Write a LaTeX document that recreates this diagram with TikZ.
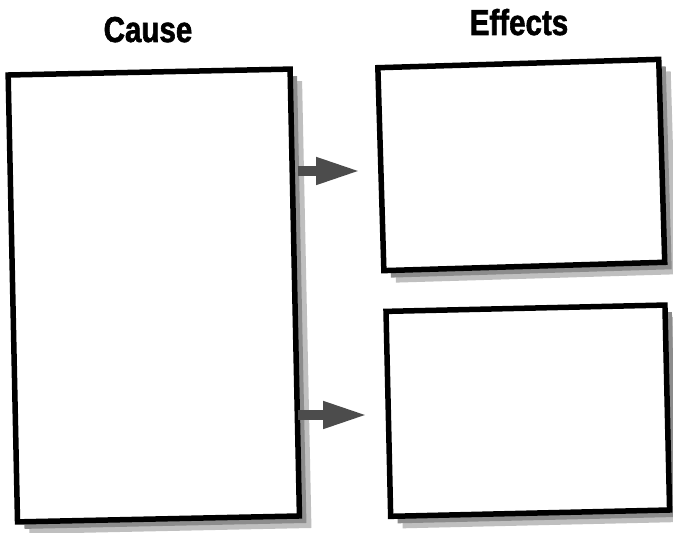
\documentclass[tikz,border=0pt]{standalone}
\usepackage{fontspec}
\newfontfamily\headfont{Liberation Sans}[FakeStretch=0.82, BoldFeatures={FakeBold=1.6}]
\usetikzlibrary{shadows,arrows.meta}
\tikzset{
  panel/.style={draw=black, line width=5.5pt, fill=white, inner sep=0pt,
    drop shadow={shadow xshift=12pt, shadow yshift=-12pt, fill=black!25, opacity=1},
    drop shadow={shadow xshift=7pt, shadow yshift=-7pt, fill=black!45, opacity=1}},
  heading/.style={font=\headfont\bfseries\fontsize{36}{40}\selectfont, anchor=base, inner sep=0pt},
  flow/.style={line width=10pt, draw=black!70, -{Triangle[width=25pt,length=45pt]}}
}
\begin{document}
\begin{tikzpicture}[x=1pt,y=1pt]
\useasboundingbox (0,0) rectangle (673,533);
\clip (0,0) rectangle (673,533);
\node[heading] (causelabel) at (148,491) {Cause};
\node[heading] (effectslabel) at (519,498) {Effects};
\node[panel, minimum width=282pt, minimum height=447pt, rotate=1.2] (cause) at (153.8,237.5) {};
\node[panel, minimum width=281pt, minimum height=203pt, rotate=1.7] (eff1) at (521.3,368) {};
\node[panel, minimum width=279pt, minimum height=205pt, rotate=1.3] (eff2) at (527.8,122.3) {};
\coordinate (tip1) at (361,362);
\coordinate (tip2) at (368,118);
\draw[flow] (cause.east |- tip1) -- (tip1);
\draw[flow] (cause.east |- tip2) -- (tip2);
\end{tikzpicture}
\end{document}
